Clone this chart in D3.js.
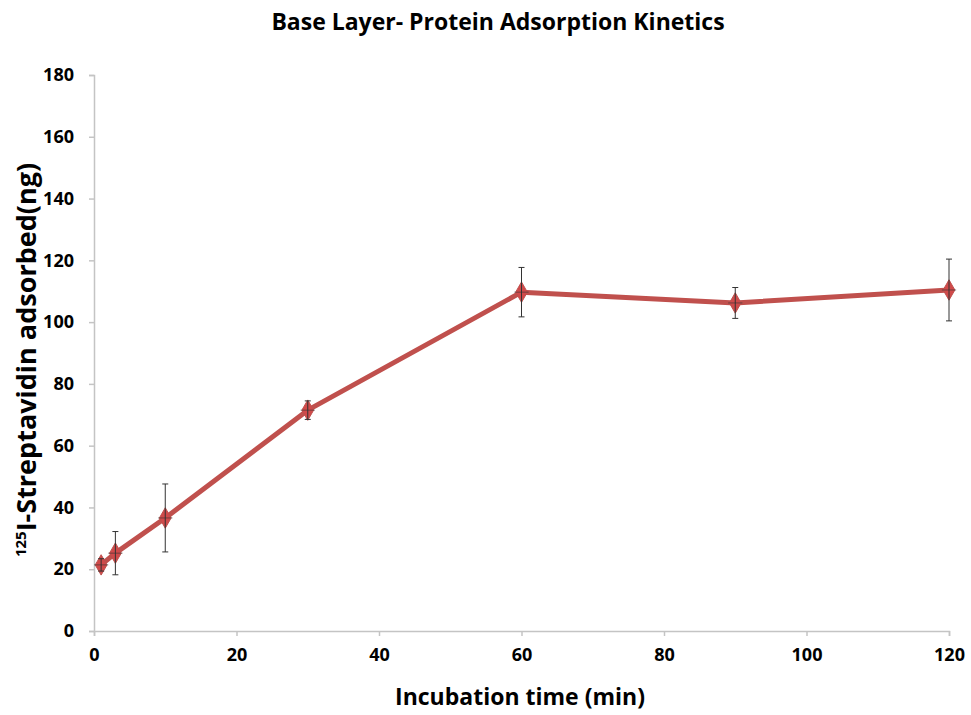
<!DOCTYPE html>
<html><head><meta charset="utf-8">
<script src="https://cdn.jsdelivr.net/npm/d3@7"></script>
<style>body{margin:0;background:#fff;} text{font-family:"Open Sans","Liberation Sans",sans-serif;font-weight:bold;}</style>
</head><body>
<svg id="c" width="971" height="715"></svg>
<script>
const times = [1, 3, 10, 30, 60, 90, 120];
const adsorbed = [21.4, 25.2, 36.6, 71.5, 109.7, 106.2, 110.4];
const errY = [2, 7, 11, 3, 8, 5, 10];
const errX = [1, 1, 1, 1, 1, 1, 1];
const xTicks = [0, 20, 40, 60, 80, 100, 120];
const yTicks = [0, 20, 40, 60, 80, 100, 120, 140, 160, 180];

const svg = d3.select("#c");
const x = d3.scaleLinear().domain([0, 120]).range([94, 949]);
const y = d3.scaleLinear().domain([0, 180]).range([631, 75]);

const xa = svg.append("g").attr("transform", "translate(0,631)")
  .call(d3.axisBottom(x).tickValues(xTicks).tickSize(5).tickPadding(12));
const ya = svg.append("g").attr("transform", "translate(94,0)")
  .call(d3.axisLeft(y).tickValues(yTicks).tickSize(5).tickPadding(15));
[xa, ya].forEach(a => {
  a.select(".domain").attr("stroke", "#c4c4c4").attr("stroke-width", 1.5);
  a.selectAll(".tick line").attr("stroke", "#c4c4c4").attr("stroke-width", 1.5);
  a.selectAll(".tick text").attr("font-size", 18).attr("fill", "#000")
    .style("font-family", "'Open Sans',sans-serif").style("font-weight", "bold");
});

const data = times.map((t, i) => ({t, v: adsorbed[i], e: errY[i], ex: errX[i]}));

// line
svg.append("path").datum(data)
  .attr("d", d3.line().x(d => x(d.t)).y(d => y(d.v)))
  .attr("fill", "none").attr("stroke", "#C0504D").attr("stroke-width", 5).attr("stroke-linejoin", "round");

// markers
svg.append("g").selectAll("path").data(data).join("path")
  .attr("transform", d => `translate(${x(d.t)},${y(d.v)})`)
  .attr("d", d3.symbol(d3.symbolDiamond, 120))
  .attr("fill", "#D04A4A").attr("stroke", "#C0504D");

// error bars
const eb = svg.append("g").attr("stroke", "#333").attr("stroke-width", 1);
data.forEach(d => {
  eb.append("line").attr("x1", x(d.t)).attr("x2", x(d.t)).attr("y1", y(d.v - d.e)).attr("y2", y(d.v + d.e));
  [d.v - d.e, d.v + d.e].forEach(v => eb.append("line").attr("x1", x(d.t) - 3).attr("x2", x(d.t) + 3).attr("y1", y(v)).attr("y2", y(v)));
  eb.append("line").attr("x1", x(d.t - d.ex)).attr("x2", x(d.t + d.ex)).attr("y1", y(d.v)).attr("y2", y(d.v)).attr("stroke-opacity", 0.6);
});

// title
svg.append("text").attr("x", 498).attr("y", 30).attr("text-anchor", "middle").attr("font-size", 23)
  .text("Base Layer- Protein Adsorption Kinetics");
// x label
svg.append("text").attr("x", 520).attr("y", 705).attr("text-anchor", "middle").attr("font-size", 23)
  .text("Incubation time (min)");
// y label
const yl = svg.append("text").attr("transform", "translate(36,360) rotate(-90)").attr("text-anchor", "middle").attr("font-size", 27);
yl.append("tspan").attr("font-size", 15).attr("dy", -10).text("125");
yl.append("tspan").attr("dy", 10).text("I-Streptavidin adsorbed(ng)");
</script>
</body></html>
